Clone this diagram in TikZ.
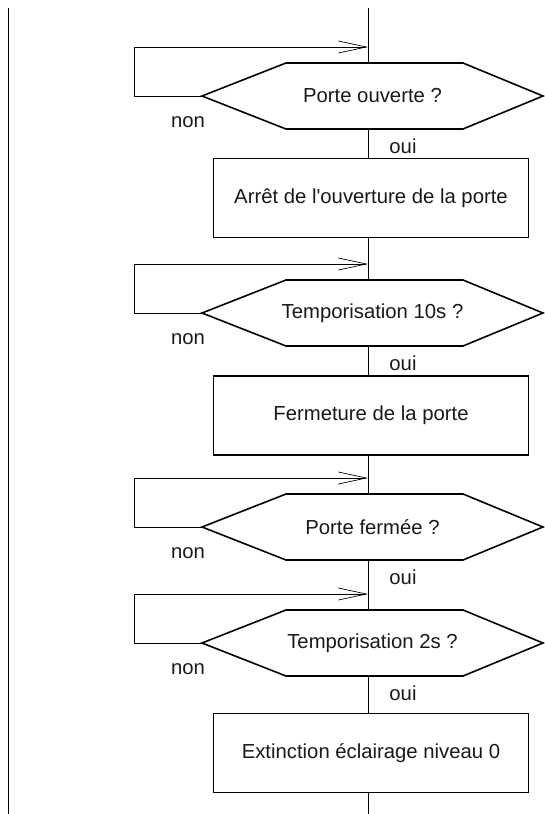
\documentclass[tikz,border=0pt]{standalone}
\usepackage{fontspec}
\setmainfont{Liberation Sans}
\usetikzlibrary{arrows.meta}
\begin{document}
\begin{tikzpicture}[x=1pt,y=-1pt,
	every node/.style={font=\fontsize{20.3}{24}\selectfont,text=black!90},
	test/.style={minimum width=341pt,minimum height=66pt,inner sep=0pt,outer sep=0pt},
	action/.style={draw,line width=1.6pt,minimum width=315pt,minimum height=79pt,inner sep=0pt,outer sep=0pt},
	flow/.style={line width=0.7pt},
	retour/.style={line width=0.7pt,-{Straight Barb[length=28pt,width=12pt,line width=0.7pt]}}]
	\useasboundingbox (0,0) rectangle (544,814);
	\draw[flow] (8,8) -- (8,814);
	\coordinate (top) at (368,8);
	\coordinate (bot) at (368,814);
	% tests et actions
	\node[test] (q1) at (372.5,96) {Porte ouverte ?};
	\node[action] (b1) at (371,198) {Arrêt de l\textquotesingle ouverture de la porte};
	\node[test] (q2) at (372.5,313) {Temporisation 10s ?};
	\node[action] (b2) at (371,415.5) {Fermeture de la porte};
	\node[test] (q3) at (372.5,527) {Porte fermée ?};
	\node[test] (q4) at (372.5,643) {Temporisation 2s ?};
	\node[action] (b3) at (371,753) {Extinction éclairage niveau 0};
	\foreach \q in {q1,q2,q3,q4}
		\draw[line width=1.6pt,line join=miter] (\q.west) -- ([xshift=84pt]\q.north west) -- ([xshift=-80pt]\q.north east)
			-- (\q.east) -- ([xshift=-80pt]\q.south east) -- ([xshift=84pt]\q.south west) -- cycle;
	% ligne principale
	\draw[flow] (top) -- (top |- q1.north);
	\draw[flow] (top |- q1.south) -- (top |- b1.north);
	\draw[flow] (top |- b1.south) -- (top |- q2.north);
	\draw[flow] (top |- q2.south) -- (top |- b2.north);
	\draw[flow] (top |- b2.south) -- (top |- q3.north);
	\draw[flow] (top |- q3.south) -- (top |- q4.north);
	\draw[flow] (top |- q4.south) -- (top |- b3.north);
	\draw[flow] (top |- b3.south) -- (bot);
	% retours
	\coordinate (r1) at (368,47);
	\coordinate (r2) at (368,264);
	\coordinate (r3) at (368,478);
	\coordinate (r4) at (368,594);
	\draw[retour] (q1.west) -- ++(-68,0) |- (r1);
	\draw[retour] (q2.west) -- ++(-68,0) |- (r2);
	\draw[retour] (q3.west) -- ++(-68,0) |- (r3);
	\draw[retour] (q4.west) -- ++(-68,0) |- (r4);
	% non / oui
	\node (n1) at ([xshift=-14pt,yshift=-26pt]q1.west) {non};
	\node (n2) at ([xshift=-14pt,yshift=-26pt]q2.west) {non};
	\node (n3) at ([xshift=-14pt,yshift=-26pt]q3.west) {non};
	\node (n4) at ([xshift=-14pt,yshift=-26pt]q4.west) {non};
	\node (o1) at ([xshift=35pt,yshift=-17pt]top |- q1.south) {oui};
	\node (o2) at ([xshift=35pt,yshift=-17pt]top |- q2.south) {oui};
	\node (o3) at ([xshift=35pt,yshift=-17pt]top |- q3.south) {oui};
	\node (o4) at ([xshift=35pt,yshift=-17pt]top |- q4.south) {oui};
\end{tikzpicture}
\end{document}
